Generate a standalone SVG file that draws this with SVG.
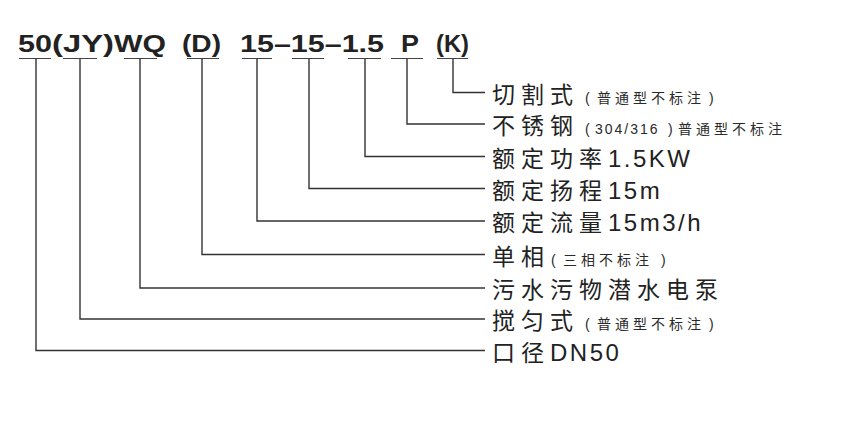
<svg xmlns="http://www.w3.org/2000/svg" width="857" height="426" viewBox="0 0 857 426">
<style>
.title{font-family:"Liberation Sans","Noto Sans CJK SC",sans-serif;font-weight:bold;font-size:24px;fill:#222}
.lbl{font-family:"Liberation Sans","Noto Sans CJK SC",sans-serif;font-size:23px;fill:#222;letter-spacing:6px}
.lat{font-size:24px;letter-spacing:2.5px}
.sm{font-family:"Liberation Sans","Noto Sans CJK SC",sans-serif;font-size:14px;fill:#2a2a2a;letter-spacing:4px}
.num{letter-spacing:2px}
.ul{stroke:#444;stroke-width:1.2;fill:none}
.ln{stroke:#333;stroke-width:1.4;fill:none}
</style>
<rect width="857" height="426" fill="#fff"/>
<g id="title">
<text class="title" x="18" y="52" textLength="34" lengthAdjust="spacingAndGlyphs">50</text>
<text class="title" x="52" y="52" textLength="62" lengthAdjust="spacingAndGlyphs">(JY)</text>
<text class="title" x="114" y="52" textLength="52" lengthAdjust="spacingAndGlyphs">WQ</text>
<text class="title" x="182" y="52" textLength="39" lengthAdjust="spacingAndGlyphs">(D)</text>
<text class="title" x="240" y="52" textLength="144" lengthAdjust="spacingAndGlyphs">15–15–1.5</text>
<text class="title" x="401" y="52" textLength="18" lengthAdjust="spacingAndGlyphs">P</text>
<text class="title" x="436" y="52" textLength="33" lengthAdjust="spacingAndGlyphs">(K)</text>
</g>
<g id="connectors">
<path class="ul" d="M19 58.5H51M63 58.5H97M124 58.5H157M187 58.5H219M242 58.5H272M292 58.5H324M348 58.5H381M391 58.5H423M437 58.5H468"/>
<path class="ln" d="M453 58.5V92.5H485"/>
<path class="ln" d="M407 58.5V124H485"/>
<path class="ln" d="M365 58.5V156.5H485"/>
<path class="ln" d="M309 58.5V188.5H485"/>
<path class="ln" d="M257 58.5V221H485"/>
<path class="ln" d="M202 58.5V254.5H485"/>
<path class="ln" d="M140 58.5V288H485"/>
<path class="ln" d="M80 58.5V319H485"/>
<path class="ln" d="M36 58.5V350.5H485"/>
</g>
<g id="n-cut">
<text class="lbl" x="492" y="102.5">切割式</text>
<text class="sm" y="102.5"><tspan x="585">(</tspan><tspan x="597">普通型不标注</tspan><tspan x="709">)</tspan></text>
</g>
<g id="n-steel">
<text class="lbl" x="492" y="134">不锈钢</text>
<text class="sm" y="134"><tspan x="585">(</tspan><tspan x="595" class="num">304/316</tspan><tspan x="668">)</tspan><tspan x="678">普通型不标注</tspan></text>
</g>
<g id="n-power">
<text class="lbl" x="492" y="166.5">额定功率<tspan class="lat">1.5KW</tspan></text>
</g>
<g id="n-head">
<text class="lbl" x="492" y="198.5">额定扬程<tspan class="lat">15m</tspan></text>
</g>
<g id="n-flow">
<text class="lbl" x="492" y="231">额定流量<tspan class="lat">15m3/h</tspan></text>
</g>
<g id="n-phase">
<text class="lbl" x="492" y="264.5">单<tspan letter-spacing="0">相</tspan></text>
<text class="sm" y="264.5"><tspan x="551">(</tspan><tspan x="563">三相不标注</tspan><tspan x="661">)</tspan></text>
</g>
<g id="n-pump">
<text class="lbl" x="492" y="298">污水污物潜水电泵</text>
</g>
<g id="n-stir">
<text class="lbl" x="492" y="329">搅匀式</text>
<text class="sm" y="329"><tspan x="585">(</tspan><tspan x="597">普通型不标注</tspan><tspan x="709">)</tspan></text>
</g>
<g id="n-dia">
<text class="lbl" x="492" y="360.5">口径<tspan class="lat">DN50</tspan></text>
</g>
</svg>
